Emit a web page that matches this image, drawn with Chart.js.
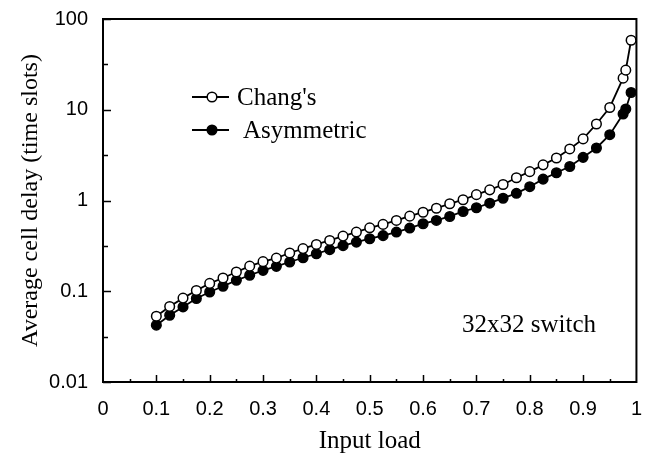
<!DOCTYPE html>
<html lang="en">
<head>
<meta charset="UTF-8" />
<title>Average cell delay</title>
<script src="https://cdn.jsdelivr.net/npm/chart.js@4.4.0/dist/chart.umd.min.js"></script>
<style>
  html, body { margin: 0; padding: 0; background: #fff; }
  canvas { display: block; }
</style>
</head>
<body>
<canvas id="delayChart" width="649" height="460"></canvas>
<script>
// input load (x) for every simulated point
const loads = [
  0.1, 0.125, 0.15, 0.175, 0.2, 0.225, 0.25, 0.275, 0.3, 0.325,
  0.35, 0.375, 0.4, 0.425, 0.45, 0.475, 0.5, 0.525, 0.55, 0.575,
  0.6, 0.625, 0.65, 0.675, 0.7, 0.725, 0.75, 0.775, 0.8, 0.825,
  0.85, 0.875, 0.9, 0.925, 0.95, 0.975, 0.98, 0.99
];
// average cell delay, time slots
const changDelay = [
  0.053, 0.068, 0.084, 0.102, 0.122, 0.140, 0.163, 0.189, 0.212, 0.232,
  0.264, 0.295, 0.328, 0.363, 0.405, 0.449, 0.50, 0.545, 0.603, 0.672,
  0.743, 0.822, 0.92, 1.02, 1.16, 1.31, 1.50, 1.78, 2.08, 2.47,
  2.94, 3.70, 4.77, 6.97, 10.6, 22.3, 27.3, 58.3
];
const asymDelay = [
  0.0423, 0.0544, 0.0672, 0.0831, 0.098, 0.1135, 0.132, 0.150, 0.170, 0.188,
  0.210, 0.234, 0.259, 0.287, 0.318, 0.348, 0.379, 0.41, 0.449, 0.497,
  0.555, 0.603, 0.667, 0.757, 0.832, 0.934, 1.06, 1.2, 1.42, 1.72,
  2.02, 2.37, 2.99, 3.79, 5.31, 8.97, 10.2, 15.5
];
const yTicks = [0.01, 0.1, 1, 10, 100];
const seriesNames = ["Chang's", "Asymmetric"];
const noteText = "32x32 switch";

const SERIF = "'Liberation Serif', 'Times New Roman', serif";
const SANS = "'Liberation Sans', Arial, sans-serif";

function toPoints(ys) {
  return loads.map((x, i) => ({ x: x, y: ys[i] }));
}

// frame, inward tick marks, legend and the switch note
const decorations = {
  id: "decorations",
  beforeDatasetsDraw(chart) {
    const { ctx, chartArea: a, scales } = chart;
    ctx.save();
    ctx.strokeStyle = "#000";
    ctx.lineWidth = 2;
    ctx.strokeRect(a.left, a.top, a.right - a.left, a.bottom - a.top);

    ctx.lineWidth = 1.5;
    ctx.beginPath();
    // x ticks: major every 0.1, minor every 0.05
    for (let i = 1; i < 20; i++) {
      const px = Math.round(scales.x.getPixelForValue(i / 20)) + 0.5;
      const len = i % 2 === 0 ? 7 : 3;
      ctx.moveTo(px, a.bottom);
      ctx.lineTo(px, a.bottom - len);
    }
    // y ticks: decades plus half-decade minors
    for (let k = -2; k <= 2; k++) {
      const py = Math.round(scales.y.getPixelForValue(Math.pow(10, k))) + 0.5;
      ctx.moveTo(a.left, py);
      ctx.lineTo(a.left + 8, py);
      if (k < 2) {
        const pm = Math.round(scales.y.getPixelForValue(Math.pow(10, k + 0.5))) + 0.5;
        ctx.moveTo(a.left, pm);
        ctx.lineTo(a.left + 5, pm);
      }
    }
    ctx.stroke();
    ctx.restore();
  },
  afterDraw(chart) {
    const { ctx } = chart;
    ctx.save();
    ctx.fillStyle = "#000";
    ctx.strokeStyle = "#000";
    ctx.font = "25px " + SERIF;
    ctx.textBaseline = "middle";

    const rows = [
      { y: 97, filled: false, textX: 237 },
      { y: 130, filled: true, textX: 243 }
    ];
    rows.forEach((r, i) => {
      ctx.lineWidth = 2;
      ctx.beginPath();
      ctx.moveTo(192, r.y);
      ctx.lineTo(229, r.y);
      ctx.stroke();
      ctx.beginPath();
      ctx.arc(212, r.y, 4.8, 0, Math.PI * 2);
      ctx.fillStyle = r.filled ? "#000" : "#fff";
      ctx.fill();
      ctx.lineWidth = 1.5;
      ctx.stroke();
      ctx.fillStyle = "#000";
      ctx.fillText(seriesNames[i], r.textX, r.y + 1);
    });

    ctx.fillText(noteText, 462, 325);
    ctx.restore();
  }
};

const ctx = document.getElementById("delayChart").getContext("2d");
const chart = new Chart(ctx, {
  type: "line",
  data: {
    datasets: [
      {
        label: seriesNames[0],
        data: toPoints(changDelay),
        borderColor: "#000",
        borderWidth: 1.8,
        pointRadius: 4.8,
        pointBorderWidth: 1.5,
        pointBackgroundColor: "#fff",
        pointBorderColor: "#000",
        tension: 0
      },
      {
        label: seriesNames[1],
        data: toPoints(asymDelay),
        borderColor: "#000",
        borderWidth: 1.8,
        pointRadius: 4.8,
        pointBorderWidth: 1.5,
        pointBackgroundColor: "#000",
        pointBorderColor: "#000",
        tension: 0
      }
    ]
  },
  options: {
    responsive: false,
    animation: false,
    layout: {
      autoPadding: false,
      padding: { left: 0, top: 18, right: 3, bottom: 0 }
    },
    plugins: {
      legend: { display: false },
      tooltip: { enabled: false }
    },
    scales: {
      x: {
        type: "linear",
        min: 0,
        max: 1,
        grid: { display: false },
        border: { display: false },
        ticks: {
          stepSize: 0.1,
          padding: 7,
          color: "#000",
          font: { family: SANS, size: 20 },
          maxRotation: 0,
          callback: (v) => String(Number(v.toFixed(1)))
        },
        title: {
          display: true,
          text: "Input load",
          color: "#000",
          font: { family: SERIF, size: 25 },
          padding: { top: 0, bottom: 4 }
        },
        afterFit(scale) { scale.height = 78; }
      },
      y: {
        type: "logarithmic",
        min: 0.01,
        max: 100,
        grid: { display: false },
        border: { display: false },
        afterBuildTicks(scale) {
          scale.ticks = yTicks.map((v) => ({ value: v }));
        },
        ticks: {
          padding: 7,
          color: "#000",
          font: { family: SANS, size: 20 },
          callback: (v) => String(v)
        },
        title: {
          display: true,
          text: "Average cell delay (time slots)",
          color: "#000",
          font: { family: SERIF, size: 24 },
          padding: { top: 16, bottom: 0 }
        },
        afterFit(scale) { scale.width = 103; }
      }
    }
  },
  plugins: [decorations]
});
</script>
</body>
</html>
